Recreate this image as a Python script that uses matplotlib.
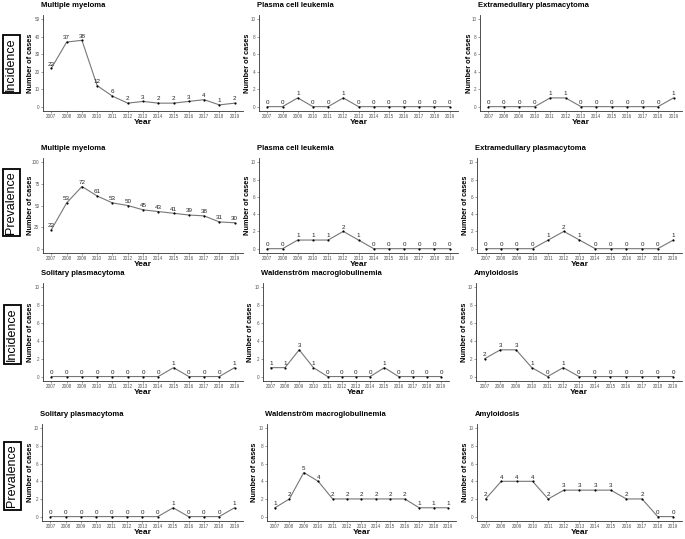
import matplotlib
matplotlib.use("Agg")
import matplotlib.pyplot as plt

plt.rcParams['font.family'] = ['Liberation Sans', 'DejaVu Sans']

years = list(range(2007, 2020))

mm_inc = [22, 37, 38, 12, 6, 2, 3, 2, 2, 3, 4, 1, 2]
pcl_inc = [0, 0, 1, 0, 0, 1, 0, 0, 0, 0, 0, 0, 0]
emp_inc = [0, 0, 0, 0, 1, 1, 0, 0, 0, 0, 0, 0, 1]
mm_prev = [22, 53, 72, 61, 53, 50, 45, 43, 41, 39, 38, 31, 30]
pcl_prev = [0, 0, 1, 1, 1, 2, 1, 0, 0, 0, 0, 0, 0]
emp_prev = [0, 0, 0, 0, 1, 2, 1, 0, 0, 0, 0, 0, 1]
sp_inc = [0, 0, 0, 0, 0, 0, 0, 0, 1, 0, 0, 0, 1]
wm_inc = [1, 1, 3, 1, 0, 0, 0, 0, 1, 0, 0, 0, 0]
amy_inc = [2, 3, 3, 1, 0, 1, 0, 0, 0, 0, 0, 0, 0]
sp_prev = [0, 0, 0, 0, 0, 0, 0, 0, 1, 0, 0, 0, 1]
wm_prev = [1, 2, 5, 4, 2, 2, 2, 2, 2, 2, 1, 1, 1]
amy_prev = [2, 4, 4, 4, 2, 3, 3, 3, 3, 2, 2, 0, 0]

titles = [["Multiple myeloma", "Plasma cell leukemia", "Extramedullary plasmacytoma"],
          ["Multiple myeloma", "Plasma cell leukemia", "Extramedullary plasmacytoma"],
          ["Solitary plasmacytoma", "Waldenström macroglobulinemia", "Amyloidosis"],
          ["Solitary plasmacytoma", "Waldenström macroglobulinemia", "Amyloidosis"]]
series = [[mm_inc, pcl_inc, emp_inc],
          [mm_prev, pcl_prev, emp_prev],
          [sp_inc, wm_inc, amy_inc],
          [sp_prev, wm_prev, amy_prev]]
yticks_mm_inc = [0, 10, 20, 30, 40, 50]
yticks_mm_prev = [0, 25, 50, 75, 100]
yticks_small = [0, 2, 4, 6, 8, 10]
row_labels = ["Incidence", "Prevalence", "Incidence", "Prevalence"]

W, H = 685, 539
fig = plt.figure(figsize=(W / 100, H / 100), dpi=100)

lefts = [[43, 259, 480], [43, 259, 477], [43, 263, 476], [42, 267, 477]]
rights = [[243, 458, 682], [243, 458, 682], [243, 449, 682], [243, 456, 682]]
tops = [15, 158, 283, 424]
bottoms = [111, 253, 381, 521]
ylab_x = [[31, 248, 470], [31, 248, 466], [31, 251, 465], [31, 255, 466]]
label_boxes = [(3, 19, 33, 95), (2, 20, 169, 236), (3, 21, 305, 364), (3, 21, 443, 509)]

for r in range(4):
    for c in range(3):
        l, rr = lefts[r][c], rights[r][c]
        t, b = tops[r], bottoms[r]
        ax = fig.add_axes([l / W, 1 - b / H, (rr - l) / W, (b - t) / H])
        vals = series[r][c]
        if r == 0 and c == 0:
            yt = yticks_mm_inc
        elif r == 1 and c == 0:
            yt = yticks_mm_prev
        else:
            yt = yticks_small
        ax.plot(years, vals, color='#777777', lw=0.8, zorder=2)
        ax.scatter(years, vals, color='black', s=2.5, zorder=3, linewidths=0)
        for x, v in zip(years, vals):
            ax.annotate(str(v), (x, v), xytext=(0, 1.2), textcoords='offset points',
                        ha='center', va='bottom', fontsize=4.5, color='#222222')
        span = yt[-1] - yt[0]
        ax.set_ylim(yt[0] - 0.05 * span, yt[-1] + 0.05 * span)
        ax.set_xlim(2006.45, 2019.55)
        ax.set_yticks(yt)
        ax.set_xticks(years)
        ax.set_xticklabels([str(y) for y in years])
        ax.tick_params(axis='both', labelsize=3.3, colors='#555555', length=1.5, width=0.4, pad=1.0)
        for s in ['top', 'right']:
            ax.spines[s].set_visible(False)
        for s in ['left', 'bottom']:
            ax.spines[s].set_color('#333333')
            ax.spines[s].set_linewidth(0.6)
        ax.set_xlabel("Year", fontsize=6, fontweight='bold', labelpad=0)
        ax.set_ylabel("Number of cases", fontsize=5.3, fontweight='bold')
        ax.yaxis.set_label_coords((ylab_x[r][c] + 3) / W, 1 - (t + b) / 2 / H,
                                  transform=fig.transFigure)
        ax.set_title(titles[r][c], fontsize=5.5, fontweight='bold', loc='left', pad=6, x=-0.01)

for (x0, x1, y0, y1), lab in zip(label_boxes, row_labels):
    fig.text((x0 + x1) / 2 / W, 1 - (y0 + y1) / 2 / H, lab, rotation=90,
             ha='center', va='center', fontsize=9,
             bbox=dict(boxstyle='square,pad=0.2', fc='white', ec='black', lw=1.3))

fig.savefig("out.png", dpi=100)
